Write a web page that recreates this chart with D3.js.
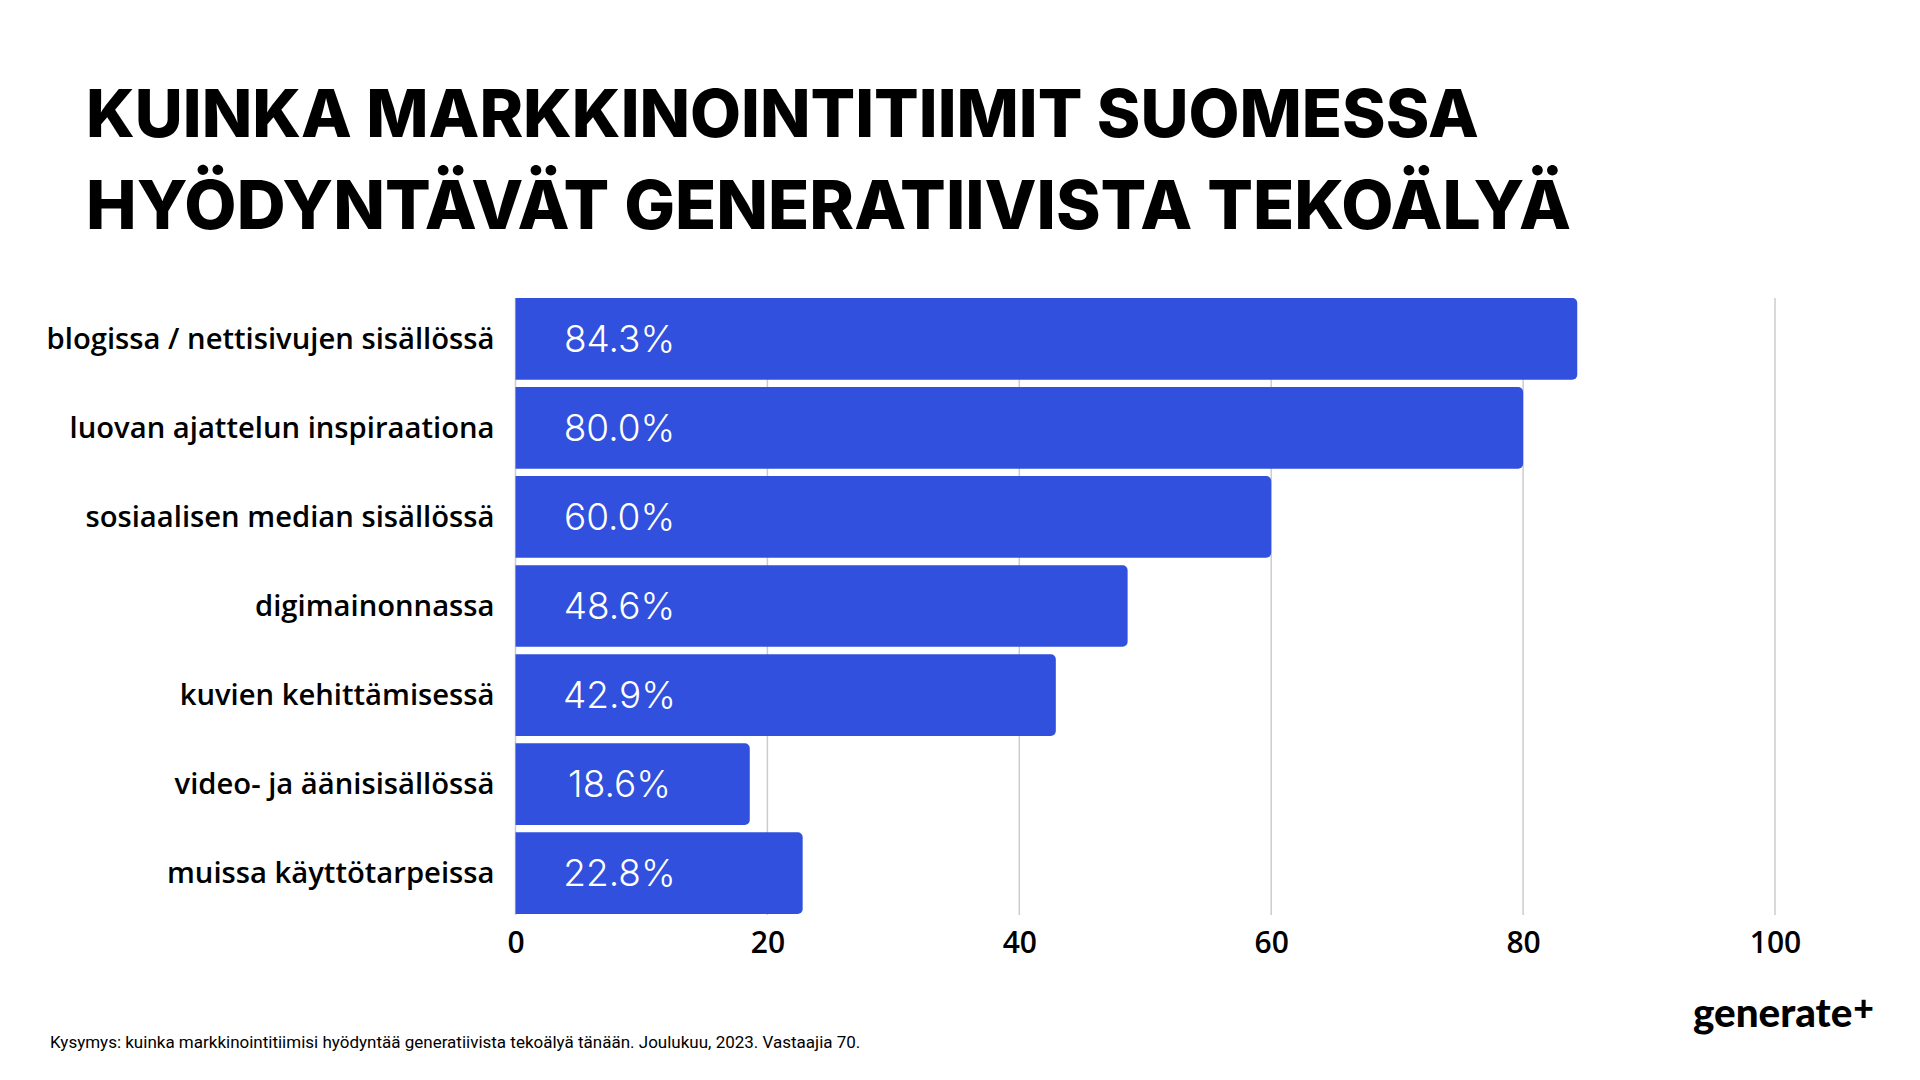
<!DOCTYPE html>
<html>
<head>
<meta charset="utf-8">
<script src="https://cdn.jsdelivr.net/npm/d3@7"></script>
<style>
  html, body { margin: 0; padding: 0; background: #ffffff; }
  svg { display: block; }
</style>
</head>
<body>
<svg id="chart" width="1920" height="1080"></svg>
<script>
const titleLines = ["KUINKA MARKKINOINTITIIMIT SUOMESSA", "HYÖDYNTÄVÄT GENERATIIVISTA TEKOÄLYÄ"];
const categories = [
  "blogissa / nettisivujen sisällössä",
  "luovan ajattelun inspiraationa",
  "sosiaalisen median sisällössä",
  "digimainonnassa",
  "kuvien kehittämisessä",
  "video- ja äänisisällössä",
  "muissa käyttötarpeissa"
];
const values = [84.3, 80.0, 60.0, 48.6, 42.9, 18.6, 22.8];
const xTicks = [0, 20, 40, 60, 80, 100];
const footnote = "Kysymys: kuinka markkinointitiimisi hyödyntää generatiivista tekoälyä tänään. Joulukuu, 2023. Vastaajia 70.";
const logoText = "generate";

const svg = d3.select("#chart");
const BAR = "#3050dd";

// fit text font-size so its width matches target
function fit(sel, target) {
  const node = sel.node();
  const fs = parseFloat(sel.attr("font-size"));
  const w = node.getComputedTextLength();
  if (w > 0) sel.attr("font-size", (fs * target / w).toFixed(2));
}

// Title
const titleFont = "Inter, 'Noto Sans', sans-serif";
const t1 = svg.append("text").attr("x", 86).attr("y", 137)
  .attr("font-family", titleFont).attr("font-weight", 800).attr("font-size", 68)
  .attr("fill", "#000").text(titleLines[0]);
fit(t1, 1393);
const t2 = svg.append("text").attr("x", 86).attr("y", 229)
  .attr("font-family", titleFont).attr("font-weight", 800).attr("font-size", 68)
  .attr("fill", "#000").text(titleLines[1]);
fit(t2, 1485);

// Scales
const x = d3.scaleLinear().domain([0, 100]).range([515.5, 1775]);
const y = d3.scaleBand().domain(categories).range([298, 914]).paddingInner(0.083).paddingOuter(0);

const g = svg.append("g");

// Grid lines
g.append("g").selectAll("line").data(xTicks).join("line")
  .attr("x1", d => x(d)).attr("x2", d => x(d))
  .attr("y1", 298).attr("y2", 915)
  .attr("stroke", "#cccccc").attr("stroke-width", 1.5);

// Bars with rounded right corners
function barPath(x0, y0, w, h, r) {
  r = Math.min(r, w / 2, h / 2);
  return `M${x0},${y0}H${x0 + w - r}A${r},${r} 0 0 1 ${x0 + w},${y0 + r}V${y0 + h - r}A${r},${r} 0 0 1 ${x0 + w - r},${y0 + h}H${x0}Z`;
}
const rows = categories.map((c, i) => ({ c, v: values[i] }));
g.append("g").selectAll("path").data(rows).join("path")
  .attr("d", d => barPath(x(0), y(d.c), x(d.v) - x(0), y.bandwidth(), 5))
  .attr("fill", BAR);

// Value labels
const fmt = d3.format(".1f");
g.append("g").selectAll("text").data(rows).join("text")
  .attr("x", x(0) + 104)
  .attr("y", d => y(d.c) + y.bandwidth() / 2)
  .attr("dy", "0.36em")
  .attr("text-anchor", "middle")
  .attr("font-family", "Inter, 'Open Sans', sans-serif")
  .attr("font-weight", 300)
  .attr("font-size", 37)
  .attr("fill", "#ffffff")
  .text(d => fmt(d.v) + "%");

// Category labels
const catFont = "'Open Sans', 'Noto Sans', sans-serif";
const catG = g.append("g");
const catTexts = catG.selectAll("text").data(categories).join("text")
  .attr("x", 494.5)
  .attr("y", d => y(d) + y.bandwidth() / 2)
  .attr("dy", "0.35em")
  .attr("text-anchor", "end")
  .attr("font-family", catFont)
  .attr("font-weight", 600)
  .attr("font-size", 28)
  .attr("fill", "#000")
  .text(d => d);
// fit size so first label matches measured width
{
  const first = catTexts.filter((d, i) => i === 0);
  const w = first.node().getComputedTextLength();
  const fs = 28 * 448 / w;
  catTexts.attr("font-size", fs.toFixed(2));
}

// X axis tick labels
const axis = d3.axisBottom(x).tickValues(xTicks).tickSize(0).tickPadding(0);
const ax = svg.append("g").attr("transform", "translate(0,942)").call(axis);
ax.select(".domain").remove();
ax.selectAll("text")
  .attr("dy", "0.36em").attr("y", 0)
  .attr("font-family", "'Open Sans', 'Noto Sans', sans-serif")
  .attr("font-weight", 600)
  .attr("font-size", 30)
  .attr("fill", "#000");

// Footnote
const fn = svg.append("text").attr("x", 50).attr("y", 1048)
  .attr("font-family", "Roboto, 'Noto Sans', sans-serif")
  .attr("font-size", 17).attr("fill", "#000").text(footnote);
fit(fn, 811);

// Logo
const logo = svg.append("text").attr("x", 1693).attr("y", 1027)
  .attr("font-family", "Lato, 'Noto Sans', sans-serif").attr("font-weight", 900)
  .attr("font-size", 34).attr("fill", "#000");
logo.append("tspan").text(logoText);
logo.append("tspan").attr("dy", -6).attr("dx", 1).attr("font-size", 30).text("+");
{
  const w = logo.node().getComputedTextLength();
  const k = 180 / w;
  logo.attr("font-size", (34 * k).toFixed(2));
  logo.select("tspan:nth-child(2)").attr("font-size", (30 * k).toFixed(2));
}
</script>
</body>
</html>
